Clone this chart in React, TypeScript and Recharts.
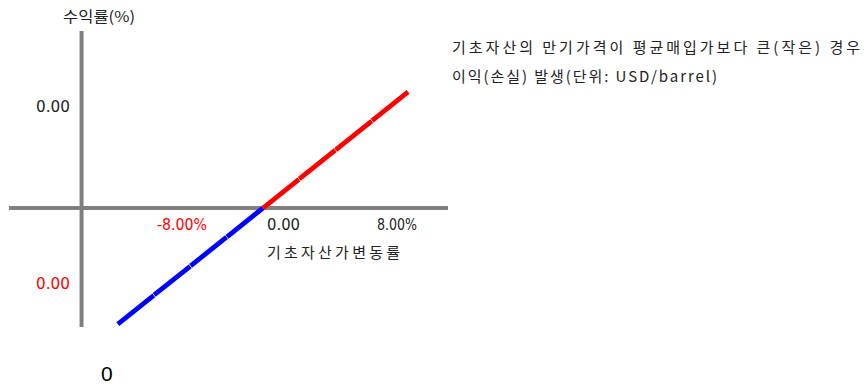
import { LineChart, Line, XAxis, YAxis, ReferenceLine } from "recharts"

// payoff: underlying change (%) vs return (%)
const lossSide = [
  { x: -8, y: -8 },
  { x: 0, y: 0 },
]
const gainSide = [
  { x: 0, y: 0 },
  { x: 8, y: 8 },
]

const yTitle = "수익률(%)"
const xTitle = "기초자산가변동률"
const xTickLabels = ["-8.00%", "0.00", "8.00%"]
const yTickLabels = ["0.00", "0.00"]
const originLabel = "0"
const noteLines = [
  "기초자산의 만기가격이 평균매입가보다 큰(작은) 경우",
  "이익(손실) 발생(단위: USD/barrel)",
]

const KR = "'Noto Sans CJK KR', 'Noto Sans', sans-serif"
const NUM = "'DejaVu Sans', sans-serif"

export default function App() {
  return (
    <div style={{ position: "fixed", left: 0, top: 0, width: 868, height: 387, background: "#fff" }}>
      <LineChart
        width={868}
        height={387}
        margin={{ top: 31, bottom: 60, left: 9, right: 420 }}
        style={{ position: "absolute", left: 0, top: 0 }}
      >
        <XAxis type="number" dataKey="x" domain={[-14, 10.2]} hide allowDataOverflow />
        <YAxis type="number" dataKey="y" domain={[-8.2, 12.2]} hide allowDataOverflow />
        <ReferenceLine x={-10} stroke="#808080" strokeWidth={4} />
        <ReferenceLine y={0} stroke="#808080" strokeWidth={4} />
        <Line
          data={lossSide}
          dataKey="y"
          stroke="#0000ff"
          strokeWidth={4.8}
          strokeDasharray="46 0.6"
          dot={false}
          isAnimationActive={false}
        />
        <Line
          data={gainSide}
          dataKey="y"
          stroke="#ff0000"
          strokeWidth={4.8}
          strokeDasharray="46 0.6"
          dot={false}
          isAnimationActive={false}
        />
      </LineChart>
      <svg width={868} height={387} style={{ position: "absolute", left: 0, top: 0, pointerEvents: "none" }}>
        <text x={63} y={22} fontFamily={KR} fontSize={15} fill="#222" textLength={72} lengthAdjust="spacingAndGlyphs">
          {yTitle}
        </text>
        <text x={36} y={112} fontFamily={NUM} fontSize={15} fill="#222" textLength={34} lengthAdjust="spacingAndGlyphs">
          {yTickLabels[0]}
        </text>
        <text x={36} y={289} fontFamily={NUM} fontSize={15} fill="#ff0000" textLength={34} lengthAdjust="spacingAndGlyphs">
          {yTickLabels[1]}
        </text>
        <text x={157} y={230} fontFamily={NUM} fontSize={15} fill="#ff0000" textLength={50} lengthAdjust="spacingAndGlyphs">
          {xTickLabels[0]}
        </text>
        <text x={267} y={230} fontFamily={NUM} fontSize={15} fill="#222" textLength={33} lengthAdjust="spacingAndGlyphs">
          {xTickLabels[1]}
        </text>
        <text x={377} y={230} fontFamily={NUM} fontSize={15} fill="#222" textLength={40} lengthAdjust="spacingAndGlyphs">
          {xTickLabels[2]}
        </text>
        <text x={267} y={258} fontFamily={KR} fontSize={15} fill="#222" textLength={133} lengthAdjust="spacing">
          {xTitle}
        </text>
        <text x={101} y={381} fontFamily="'Liberation Sans', sans-serif" fontSize={21} fill="#000">
          {originLabel}
        </text>
        <text x={452} y={53} fontFamily={KR} fontSize={15} fill="#222" textLength={408} lengthAdjust="spacing">
          {noteLines[0]}
        </text>
        <text x={452} y={82} fontFamily={KR} fontSize={15} fill="#222" textLength={265} lengthAdjust="spacing">
          {noteLines[1]}
        </text>
      </svg>
    </div>
  )
}
